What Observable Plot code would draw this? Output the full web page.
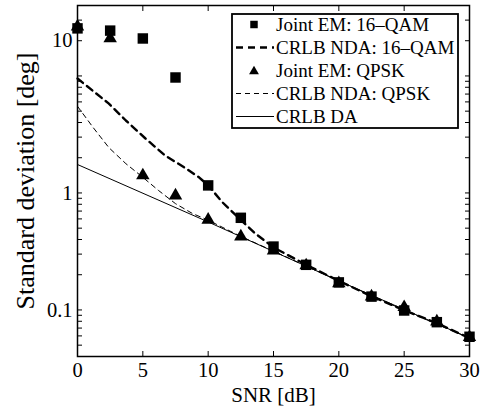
<!DOCTYPE html>
<html><head><meta charset="utf-8">
<script src="https://cdn.jsdelivr.net/npm/d3@7"></script>
<script src="https://cdn.jsdelivr.net/npm/@observablehq/plot@0.6"></script>
<style>html,body{margin:0;padding:0;background:#fff}svg{display:block}</style>
</head><body><div id="chart"></div>
<script>
// SNR grid of the simulated points (dB)
const snr = [0, 2.5, 5, 7.5, 10, 12.5, 15, 17.5, 20, 22.5, 25, 27.5, 30];
// Joint EM: 16-QAM (squares), std dev in degrees
const emQam16 = [25.5, 24.4, 20.9, 9.7, 1.16, 0.613, 0.348, 0.243, 0.172, 0.130, 0.0989, 0.0786, 0.059];
// Joint EM: QPSK (triangles)
const emQpsk = [26.4, 20.9, 1.41, 0.951, 0.589, 0.424, 0.322, 0.240, 0.169, 0.130, 0.1055, 0.0796, 0.0585];
// CRLB NDA: 16-QAM (thick dashed)
const ndaQam16Snr = [0, 2.4, 3.7, 5.2, 6.7, 8.3, 9.3, 10, 11.1, 12.3, 13.6, 15, 17.5, 20, 22.5, 25, 27.5, 30];
const ndaQam16 = [9.5, 5.8, 4.16, 2.92, 2.09, 1.62, 1.36, 1.16, 0.83, 0.617, 0.45, 0.342, 0.243, 0.177, 0.131, 0.0995, 0.077, 0.0575];
// CRLB NDA: QPSK (thin dashed)
const ndaQpskSnr = [0, 1.2, 2.4, 3.7, 5, 6.2, 7.5, 8.8, 10, 12.5, 15, 20, 25, 30];
const ndaQpsk = [5.5, 3.62, 2.44, 1.78, 1.36, 1.05, 0.81, 0.667, 0.585, 0.425, 0.318, 0.177, 0.0995, 0.0575];
// CRLB DA (solid)
const daSnr = [0, 10, 20, 30];
const da = [1.75, 0.565, 0.177, 0.0575];

const xTicks = [0, 5, 10, 15, 20, 25, 30];
const yMajorTicks = [0.1, 1, 20];
const yTickLabels = ["0.1", "1", "10"];
const yAllTicks = [0.04, 0.05, 0.06, 0.07, 0.08, 0.09, 0.1, 0.2, 0.3, 0.4, 0.5, 0.6, 0.7, 0.8, 0.9, 1, 2, 3, 4, 5, 6, 7, 8, 9, 10, 20, 30];
const seriesNames = ["Joint EM: 16–QAM", "CRLB NDA: 16–QAM", "Joint EM: QPSK", "CRLB NDA: QPSK", "CRLB DA"];
const xLabel = "SNR [dB]";
const yLabel = "Standard deviation [deg]";

const pts = (xs, ys) => xs.map((x, i) => ({x, y: ys[i]}));

const chart = Plot.plot({
  width: 487, height: 408,
  marginLeft: 77, marginRight: 18, marginTop: 5, marginBottom: 52,
  style: {fontFamily: "'Liberation Serif', 'Times New Roman', serif", fontSize: "20.5px", color: "black", background: "white", overflow: "visible"},
  x: {domain: [0, 30]},
  y: {type: "log", domain: [0.04, 40]},
  marks: [
    Plot.axisX(xTicks, {anchor: "bottom", tickSize: 0, tickPadding: 6, tickFormat: d => String(d), label: null}),
    Plot.axisX(xTicks, {anchor: "bottom", tickSize: 5, dy: -5, fill: "none", label: null}),
    Plot.axisX(xTicks, {anchor: "top", tickSize: 5, dy: 5, fill: "none", label: null}),
    Plot.axisY(yAllTicks, {anchor: "left", tickSize: 5, dx: 5, fill: "none", label: null}),
    Plot.axisY(yAllTicks, {anchor: "right", tickSize: 5, dx: -5, fill: "none", label: null}),
    Plot.axisY(yMajorTicks, {anchor: "left", tickSize: 0, tickPadding: 5, tickFormat: d => yTickLabels[yMajorTicks.indexOf(d)], label: null}),
    Plot.line(pts(daSnr, da), {x: "x", y: "y", stroke: "black", strokeWidth: 1}),
    Plot.line(pts(ndaQpskSnr, ndaQpsk), {x: "x", y: "y", stroke: "black", strokeWidth: 1, strokeDasharray: "5,4"}),
    Plot.line(pts(ndaQam16Snr, ndaQam16), {x: "x", y: "y", stroke: "black", strokeWidth: 2.4, strokeDasharray: "7,5"}),
    Plot.dot(pts(snr, emQam16), {x: "x", y: "y", symbol: "square", r: 5.9, fill: "black"}),
    Plot.dot(pts(snr, emQpsk), {x: "x", y: "y", symbol: "triangle", r: 5, fill: "black"}),
    Plot.frame({stroke: "black", strokeWidth: 1.5}),
    Plot.text([yLabel], {text: d => d, frameAnchor: "left", dx: -52, rotate: -90, fontSize: 26, lineAnchor: "middle", textAnchor: "middle"}),
    Plot.text([xLabel], {text: d => d, frameAnchor: "bottom", dy: 31, fontSize: 21, lineAnchor: "top", textAnchor: "middle"})
  ]
});

// Legend box inside the plot (upper right)
const svg = d3.select(chart);
const lg = svg.append("g")
  .attr("font-family", "'Liberation Serif', 'Times New Roman', serif")
  .attr("font-size", 19)
  .attr("text-anchor", "start");
lg.append("rect").attr("x", 232).attr("y", 14).attr("width", 226).attr("height", 114)
  .attr("fill", "white").attr("stroke", "black").attr("stroke-width", 1.8);
const kinds = ["square", "thick", "triangle", "thin", "solid"];
seriesNames.forEach((name, i) => {
  const cy = 24.5 + i * 23;
  const k = kinds[i];
  if (k === "square") {
    lg.append("path").attr("transform", `translate(254,${cy})`).attr("d", d3.symbol(d3.symbolSquare, 56)()).attr("fill", "black");
  } else if (k === "triangle") {
    lg.append("path").attr("transform", `translate(254,${cy + 1})`).attr("d", d3.symbol(d3.symbolTriangle, 42)()).attr("fill", "black");
  } else {
    const l = lg.append("line").attr("x1", 236).attr("x2", 274).attr("y1", cy).attr("y2", cy).attr("stroke", "black");
    if (k === "thick") l.attr("stroke-width", 2.4).attr("stroke-dasharray", "7,5");
    else if (k === "thin") l.attr("stroke-width", 1).attr("stroke-dasharray", "5,4");
    else l.attr("stroke-width", 1);
  }
  lg.append("text").attr("x", 276).attr("y", cy).attr("dy", "0.35em").attr("text-anchor", "start").attr("fill", "black").text(name);
});

document.getElementById("chart").appendChild(chart);
</script>
</body></html>
